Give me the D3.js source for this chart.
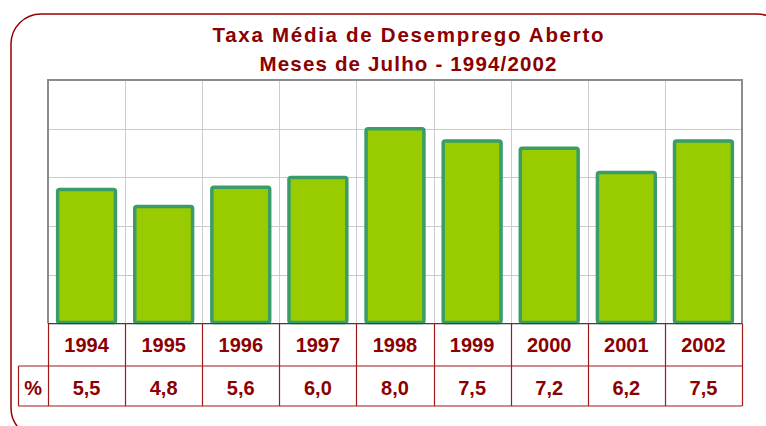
<!DOCTYPE html>
<html>
<head>
<meta charset="utf-8">
<script src="https://cdn.jsdelivr.net/npm/d3@7"></script>
<style>
  body { margin: 0; background: #fff; }
  svg { display: block; }
</style>
</head>
<body>
<script>
const width = 766
const height = 426
const plot = ({left: 48, right: 742, top: 80, bottom: 323.5})
const rowH = [42.5, 40]
const titleWidths = [391, 297]

const titleLines = ["Taxa Média de Desemprego Aberto", "Meses de Julho - 1994/2002"]
const years = ["1994", "1995", "1996", "1997", "1998", "1999", "2000", "2001", "2002"]
const rates = [5.5, 4.8, 5.6, 6.0, 8.0, 7.5, 7.2, 6.2, 7.5]
const yTicks = [0, 2, 4, 6, 8, 10]
const rowLabel = "%"

const red = "#8b0000"
const lineRed = "#a01818"

const svg = d3.select("body").append("svg").attr("width", width).attr("height", height)

// rounded outer frame, runs off the right and bottom edges
svg.append("rect")
    .attr("x", 11).attr("y", 14)
    .attr("width", 776).attr("height", 424)
    .attr("rx", 30)
    .attr("fill", "none")
    .attr("stroke", "#990000")
    .attr("stroke-width", 1.5)

svg.append("g")
    .attr("font-family", "Liberation Sans, Arial, sans-serif")
    .attr("font-weight", "bold")
    .attr("font-size", 20.5)
    .attr("fill", red)
    .attr("text-anchor", "middle")
  .selectAll("text")
  .data(titleLines)
  .join("text")
    .attr("x", 408)
    .attr("y", (d, i) => 42 + i * 29)
    .attr("textLength", (d, i) => titleWidths[i])
    .attr("lengthAdjust", "spacing")
    .text(d => d)

let x = d3.scaleBand()
    .domain(years)
    .range([plot.left, plot.right])

let y = d3.scaleLinear()
    .domain([0, 10])
    .range([plot.bottom, plot.top])

// grid
let grid = svg.append("g").attr("stroke", "#cbcbcb").attr("stroke-width", 1)
grid.selectAll("line.h")
  .data(yTicks)
  .join("line")
    .attr("class", "h")
    .attr("x1", plot.left).attr("x2", plot.right)
    .attr("y1", d => Math.round(y(d)) + 0.5).attr("y2", d => Math.round(y(d)) + 0.5)
grid.selectAll("line.v")
  .data(years.slice(1))
  .join("line")
    .attr("class", "v")
    .attr("x1", d => Math.round(x(d)) + 0.5).attr("x2", d => Math.round(x(d)) + 0.5)
    .attr("y1", plot.top).attr("y2", plot.bottom)

// plot border (left, top, right)
svg.append("path")
    .attr("d", `M${plot.left},${plot.bottom}V${plot.top}H${plot.right}V${plot.bottom}`)
    .attr("fill", "none")
    .attr("stroke", "#8c8c8c")
    .attr("stroke-width", 2)

// bars
const inset = x.bandwidth() * 0.125
svg.append("g")
  .selectAll("rect")
  .data(rates)
  .join("rect")
    .attr("x", (d, i) => x(years[i]) + inset)
    .attr("y", d => y(d))
    .attr("width", x.bandwidth() - 2 * inset)
    .attr("height", d => y(0) - y(d) - 1)
    .attr("rx", 2)
    .attr("fill", "#99cc00")
    .attr("stroke", "#3a9c68")
    .attr("stroke-width", 3.5)

// data table
let table = svg.append("g")
const r1 = plot.bottom, r2 = plot.bottom + rowH[0], r3 = r2 + rowH[1]
const xCells = [18.5].concat(years.map(d => x(d)), [plot.right])

table.append("g")
    .attr("stroke", lineRed)
    .attr("stroke-width", 1.2)
    .call(g => g.append("line").attr("x1", plot.left).attr("x2", plot.right).attr("y1", r1).attr("y2", r1))
    .call(g => g.append("line").attr("x1", 18.5).attr("x2", plot.right).attr("y1", r2).attr("y2", r2))
    .call(g => g.append("line").attr("x1", 18.5).attr("x2", plot.right).attr("y1", r3).attr("y2", r3))
    .call(g => g.append("line").attr("x1", 18.5).attr("x2", 18.5).attr("y1", r2).attr("y2", r3))
    .call(g => g.selectAll("line.col")
      .data(xCells.slice(1))
      .join("line")
        .attr("class", "col")
        .attr("x1", d => Math.round(d) + 0.5).attr("x2", d => Math.round(d) + 0.5)
        .attr("y1", r1).attr("y2", r3))

let cells = table.append("g")
    .attr("font-family", "Liberation Sans, Arial, sans-serif")
    .attr("font-weight", "bold")
    .attr("font-size", 20)
    .attr("fill", red)
    .attr("text-anchor", "middle")

cells.selectAll("text.year")
  .data(years)
  .join("text")
    .attr("class", "year")
    .attr("x", d => x(d) + x.bandwidth() / 2)
    .attr("y", r1 + 28)
    .text(d => d)

cells.selectAll("text.val")
  .data(rates)
  .join("text")
    .attr("class", "val")
    .attr("x", (d, i) => x(years[i]) + x.bandwidth() / 2)
    .attr("y", r2 + 29)
    .text(d => d3.format(".1f")(d).replace(".", ","))

cells.append("text")
    .attr("x", (18.5 + plot.left) / 2)
    .attr("y", r2 + 29)
    .text(rowLabel)
</script>
</body>
</html>
